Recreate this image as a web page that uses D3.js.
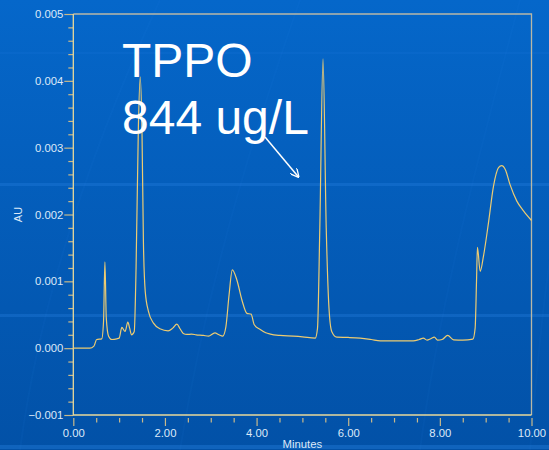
<!DOCTYPE html>
<html>
<head>
<meta charset="utf-8">
<script src="https://cdn.jsdelivr.net/npm/d3@7"></script>
<style>
  html, body { margin: 0; padding: 0; background: #045bba; }
  svg { display: block; font-family: "Liberation Sans", Arial, sans-serif; }
</style>
</head>
<body>
<div id="chart"></div>
<script>
// chromatogram trace
const minutes = [0.00, 0.36, 0.45, 0.51, 0.62, 0.66, 0.69, 0.72, 0.77, 0.84, 0.95, 1.00, 1.06, 1.13, 1.19, 1.23, 1.27, 1.33,
  1.37, 1.42, 1.46, 1.50, 1.53, 1.57, 1.64, 1.75, 1.89, 2.07, 2.17, 2.26, 2.33, 2.40, 2.48, 2.58, 2.68, 2.84, 2.95,
  3.09, 3.18, 3.26, 3.33, 3.40, 3.47, 3.57, 3.68, 3.79, 3.88, 3.95, 4.08, 4.20, 4.30, 4.51, 4.80, 5.00, 5.28, 5.33,
  5.38, 5.45, 5.52, 5.58, 5.64, 5.75, 6.00, 6.26, 6.50, 6.70, 7.00, 7.42, 7.55, 7.64, 7.72, 7.80, 7.88, 7.95, 8.05,
  8.17, 8.30, 8.50, 8.72, 8.77, 8.80, 8.82, 8.88, 8.95, 9.06, 9.17, 9.28, 9.35, 9.43, 9.53, 9.68, 9.83, 10.00];
const absorbance = [0.00000, 0.00000, 0.00003, 0.00013, 0.00014, 0.00040, 0.00129, 0.00045, 0.00018, 0.00013, 0.00014,
  0.00015, 0.00031, 0.00025, 0.00039, 0.00030, 0.00020, 0.00025, 0.00120, 0.00330, 0.00406, 0.00320, 0.00160, 0.00085,
  0.00055, 0.000375, 0.00029, 0.00026, 0.00030, 0.00036, 0.00029, 0.00022, 0.000205, 0.00021, 0.00020, 0.00019,
  0.00018, 0.00023, 0.00020, 0.00018, 0.00032, 0.00080, 0.00117, 0.00102, 0.00072, 0.00052, 0.00051, 0.00035,
  0.00028, 0.00023, 0.00021, 0.00019, 0.00018, 0.00017, 0.00015, 0.00030, 0.00180, 0.00433, 0.00180, 0.00060,
  0.00025, 0.000165, 0.00016, 0.00015, 0.00013, 0.00011, 0.00011, 0.00011, 0.00013, 0.00015, 0.00012, 0.00014,
  0.000165, 0.00012, 0.00013, 0.00019, 0.000125, 0.00012, 0.000135, 0.00030, 0.00100, 0.00151, 0.00115, 0.00137,
  0.00187, 0.00242, 0.00270, 0.00273, 0.00267, 0.00245, 0.00220, 0.00205, 0.00191];

const yMajor = [-0.001, 0.000, 0.001, 0.002, 0.003, 0.004, 0.005];
const yMinor = d3.range(-0.0008, 0.005, 0.0002).filter(v => Math.abs(Math.round(v * 1000) - v * 1000) > 1e-6);
const xMajor = [0, 2, 4, 6, 8, 10];
const xMinor = [0.5, 1, 1.5, 2.5, 3, 3.5, 4.5, 5, 5.5, 6.5, 7, 7.5, 8.5, 9, 9.5];

const annotation = ["TPPO", "844 ug/L"];

const width = 549;
const height = 450;
const margin = { top: 14, right: 17.5, bottom: 35, left: 73.3 };

const svg = d3.select("#chart")
  .append("svg")
  .attr("width", width)
  .attr("height", height);

// slide background
const defs = svg.append("defs");
const grad = defs.append("linearGradient")
  .attr("id", "bg")
  .attr("x1", 0).attr("y1", 0).attr("x2", 0).attr("y2", 1);
grad.append("stop").attr("offset", "0%").attr("stop-color", "#0567ca");
grad.append("stop").attr("offset", "100%").attr("stop-color", "#0251a7");

svg.append("rect")
  .attr("width", width)
  .attr("height", height)
  .attr("fill", "url(#bg)");

// faint template bands and swooshes
[[52, 2, 0.12], [183, 3, 0.3], [314, 3, 0.3], [445, 4, 0.35]].forEach(b => {
  svg.append("rect")
    .attr("x", 0).attr("y", b[0])
    .attr("width", width).attr("height", b[1])
    .attr("fill", "#2a86e6")
    .attr("opacity", b[2]);
});
["M20,450 C40,300 90,150 160,0", "M180,450 C200,330 230,200 300,0", "M420,450 C440,300 480,150 520,0", "M530,450 C540,330 548,260 560,200"]
  .forEach(p => {
    svg.append("path")
      .attr("d", p)
      .attr("fill", "none")
      .attr("stroke", "#3a90ea")
      .attr("stroke-width", 2)
      .attr("opacity", 0.06);
  });

const x = d3.scaleLinear()
  .domain([0, 10])
  .range([margin.left, width - margin.right]);

const y = d3.scaleLinear()
  .domain([-0.001, 0.005])
  .range([height - margin.bottom, margin.top]);

const tickColor = "#c9b98a";
const textColor = "#dde9f8";

// y axis
const yAxisMajor = svg.append("g")
  .attr("transform", `translate(${margin.left},0)`)
  .call(d3.axisLeft(y).tickValues(yMajor).tickSize(9).tickPadding(1).tickFormat(d3.format(".3f")));
const yAxisMinor = svg.append("g")
  .attr("transform", `translate(${margin.left},0)`)
  .call(d3.axisLeft(y).tickValues(yMinor).tickSize(5).tickFormat(""));

// x axis, ticks hang just below the frame
const xAxisMajor = svg.append("g")
  .attr("transform", `translate(0,${height - margin.bottom + 3})`)
  .call(d3.axisBottom(x).tickValues(xMajor).tickSize(8).tickPadding(3).tickFormat(d3.format(".2f")));
const xAxisMinor = svg.append("g")
  .attr("transform", `translate(0,${height - margin.bottom + 3})`)
  .call(d3.axisBottom(x).tickValues(xMinor).tickSize(4.5).tickFormat(""));

[yAxisMajor, yAxisMinor, xAxisMajor, xAxisMinor].forEach(g => {
  g.select(".domain").remove();
  g.selectAll(".tick line").attr("stroke", tickColor).attr("stroke-width", 1.2);
  g.selectAll(".tick text")
    .attr("fill", textColor)
    .style("font-size", "11.3px")
    .style("font-family", "'Liberation Sans', Arial, sans-serif");
});

// plot frame
const x0 = x(0), x1 = x(10), yTop = y(0.005), yBot = y(-0.001);
svg.append("path")
  .attr("d", `M${x0},${yTop}H${x1}V${yBot}`)
  .attr("fill", "none")
  .attr("stroke", "#b9b8a6")
  .attr("stroke-width", 1.3);
svg.append("path")
  .attr("d", `M${x0},${yTop}V${yBot}H${x1}`)
  .attr("fill", "none")
  .attr("stroke", "#e9d99a")
  .attr("stroke-width", 1.3);

// axis titles
svg.append("text")
  .attr("x", (x0 + x1) / 2)
  .attr("y", 448)
  .attr("text-anchor", "middle")
  .attr("fill", textColor)
  .style("font-size", "11.3px")
  .text("Minutes");

svg.append("text")
  .attr("transform", `translate(21.5,${(yTop + yBot) / 2}) rotate(-90)`)
  .attr("text-anchor", "middle")
  .attr("fill", textColor)
  .style("font-size", "11px")
  .text("AU");

// trace
const line = d3.line()
  .x((d, i) => x(minutes[i]))
  .y(d => y(d))
  .curve(d3.curveMonotoneX);

svg.append("path")
  .datum(absorbance)
  .attr("d", line)
  .attr("fill", "none")
  .attr("stroke", "#eccb72")
  .attr("stroke-width", 1.2);

// annotation
annotation.forEach((t, i) => {
  svg.append("text")
    .attr("x", 122)
    .attr("y", 76.5 + i * 57)
    .attr("fill", "#ffffff")
    .style("font-size", "48px")
    .text(t);
});

defs.append("marker")
  .attr("id", "arrow")
  .attr("viewBox", "0 0 10 10")
  .attr("refX", 9).attr("refY", 5)
  .attr("markerWidth", 9).attr("markerHeight", 9)
  .attr("markerUnits", "userSpaceOnUse")
  .attr("orient", "auto")
  .append("path")
  .attr("d", "M0,0L10,5L0,10")
  .attr("fill", "none")
  .attr("stroke", "#ffffff")
  .attr("stroke-width", 1.5);

svg.append("line")
  .attr("x1", 265).attr("y1", 137)
  .attr("x2", 298.5).attr("y2", 177)
  .attr("stroke", "#ffffff")
  .attr("stroke-width", 1.5)
  .attr("marker-end", "url(#arrow)");
</script>
</body>
</html>
